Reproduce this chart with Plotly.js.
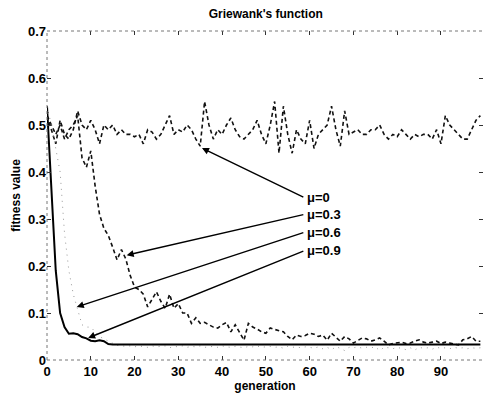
<!DOCTYPE html>
<html>
<head>
<meta charset="utf-8">
<script src="https://cdn.plot.ly/plotly-3.0.1.min.js"></script>
<style>html,body{margin:0;padding:0;background:#fff;}#chart{width:485px;height:393px;}</style>
</head>
<body>
<div id="chart"></div>
<script>
const generations = Array.from({length: 100}, (_, i) => i);

const mu0 = [0.52,0.49,0.46,0.51,0.48,0.47,0.49,0.53,0.50,0.49,
  0.51,0.49,0.46,0.50,0.49,0.50,0.48,0.49,0.48,0.48,
  0.475,0.48,0.46,0.49,0.485,0.47,0.48,0.50,0.52,0.48,
  0.49,0.485,0.50,0.49,0.47,0.455,0.55,0.50,0.47,0.49,
  0.48,0.50,0.515,0.49,0.475,0.47,0.48,0.49,0.51,0.48,
  0.46,0.50,0.55,0.44,0.54,0.48,0.44,0.49,0.47,0.46,
  0.51,0.45,0.48,0.49,0.50,0.54,0.49,0.455,0.53,0.48,
  0.485,0.49,0.48,0.48,0.49,0.49,0.50,0.48,0.47,0.48,
  0.475,0.49,0.48,0.47,0.48,0.475,0.48,0.48,0.47,0.49,
  0.46,0.52,0.50,0.49,0.48,0.47,0.47,0.49,0.51,0.52];

const mu03 = [0.52,0.50,0.48,0.50,0.47,0.49,0.50,0.52,0.43,0.41,
  0.445,0.37,0.31,0.28,0.265,0.24,0.213,0.235,0.215,0.18,
  0.155,0.15,0.14,0.113,0.13,0.145,0.125,0.11,0.14,0.11,
  0.12,0.10,0.10,0.078,0.09,0.078,0.08,0.075,0.07,0.068,
  0.075,0.08,0.06,0.075,0.06,0.042,0.078,0.07,0.066,0.06,
  0.057,0.068,0.065,0.062,0.06,0.05,0.043,0.053,0.05,0.052,
  0.057,0.055,0.05,0.053,0.042,0.057,0.048,0.04,0.05,0.045,
  0.036,0.042,0.047,0.045,0.04,0.043,0.047,0.04,0.032,0.035,
  0.036,0.038,0.035,0.036,0.04,0.043,0.038,0.036,0.038,0.04,
  0.035,0.038,0.036,0.034,0.032,0.043,0.045,0.05,0.04,0.04];

const mu06 = [0.54,0.50,0.45,0.40,0.27,0.19,0.14,0.11,0.075,0.07,
  0.07,0.06,0.05,0.045,0.04,0.035,0.031,0.03,0.029,0.03,
  0.028,0.03,0.029,0.027,0.03,0.028,0.029,0.03,0.026,0.029,
  0.028,0.03,0.027,0.029,0.028,0.03,0.027,0.028,0.029,0.027,
  0.03,0.028,0.027,0.029,0.028,0.026,0.029,0.028,0.03,0.027,
  0.028,0.029,0.027,0.028,0.025,0.029,0.027,0.028,0.026,0.028,
  0.027,0.025,0.028,0.024,0.027,0.022,0.028,0.025,0.02,0.027,
  0.026,0.028,0.025,0.027,0.026,0.028,0.02,0.027,0.026,0.024,
  0.027,0.025,0.022,0.026,0.021,0.027,0.025,0.026,0.023,0.027,
  0.025,0.026,0.024,0.027,0.025,0.026,0.024,0.026,0.025,0.026];

const mu09 = [0.54,0.37,0.19,0.10,0.07,0.056,0.057,0.055,0.049,0.046,
  0.041,0.04,0.042,0.04,0.034,0.033,0.033,0.033,0.033,0.033,
  0.033,0.033,0.033,0.033,0.033,0.033,0.033,0.033,0.033,0.033,
  0.033,0.033,0.033,0.033,0.033,0.033,0.033,0.033,0.033,0.033,
  0.033,0.033,0.033,0.033,0.033,0.033,0.033,0.033,0.033,0.033,
  0.033,0.033,0.033,0.033,0.033,0.033,0.033,0.033,0.033,0.033,
  0.033,0.033,0.033,0.033,0.033,0.033,0.033,0.033,0.033,0.033,
  0.033,0.033,0.033,0.033,0.033,0.033,0.033,0.033,0.033,0.033,
  0.033,0.033,0.033,0.033,0.033,0.033,0.033,0.033,0.033,0.033,
  0.033,0.033,0.033,0.033,0.033,0.033,0.033,0.033,0.033,0.033];

const seriesLabels = ['μ=0', 'μ=0.3', 'μ=0.6', 'μ=0.9'];
// arrow targets [generation, value] and label anchors [generation, value]
const arrowTips = [[35.4, 0.451], [18.2, 0.223], [6.8, 0.113], [9.4, 0.047]];
const labelPos = [[58.9, 0.345], [58.9, 0.31], [58.9, 0.272], [58.9, 0.233]];

const xTicks = [0,10,20,30,40,50,60,70,80,90];
const yTicks = [0,0.1,0.2,0.3,0.4,0.5,0.6,0.7];
const yTickText = ['0','0.1','0.2','0.3','0.4','0.5','0.6','0.7'];

const FONT = 'Liberation Sans, Arial, sans-serif';

const traces = [
  {x: generations, y: mu0, mode: 'lines', line: {color: '#111', width: 1.6, dash: '4px,3px'}, name: seriesLabels[0]},
  {x: generations, y: mu03, mode: 'lines', line: {color: '#111', width: 1.6, dash: '4px,3px'}, name: seriesLabels[1]},
  {x: generations, y: mu06, mode: 'lines', line: {color: '#999', width: 1, dash: '1px,5px'}, name: seriesLabels[2]},
  {x: generations, y: mu09, mode: 'lines', line: {color: '#000', width: 2}, name: seriesLabels[3]}
];

const annotations = [];
for (let i = 0; i < seriesLabels.length; i++) {
  annotations.push({
    x: arrowTips[i][0], y: arrowTips[i][1], xref: 'x', yref: 'y',
    ax: labelPos[i][0], ay: labelPos[i][1], axref: 'x', ayref: 'y',
    text: '', showarrow: true, arrowhead: 2, arrowsize: 1, arrowwidth: 1.4, arrowcolor: '#000'
  });
  annotations.push({
    x: labelPos[i][0], y: labelPos[i][1], xref: 'x', yref: 'y',
    text: '<b>' + seriesLabels[i] + '</b>', showarrow: false, xanchor: 'left', yanchor: 'middle',
    font: {family: FONT, size: 13, color: '#000'}
  });
}

const boxLine = {color: '#777', width: 1, dash: 'dot'};
const shapes = [
  {type: 'line', xref: 'paper', yref: 'paper', x0: 0, x1: 0, y0: 0, y1: 1, line: boxLine},
  {type: 'line', xref: 'paper', yref: 'paper', x0: 0, x1: 1, y0: 0, y1: 0, line: boxLine},
  {type: 'line', xref: 'paper', yref: 'paper', x0: 0, x1: 1, y0: 1, y1: 1, line: boxLine}
];

const layout = {
  width: 485, height: 393,
  margin: {l: 47, r: 2, t: 31, b: 33},
  paper_bgcolor: '#fff', plot_bgcolor: '#fff',
  showlegend: false,
  title: {text: "<b>Griewank's function</b>", font: {family: FONT, size: 12, color: '#000'}, x: 0.548, xanchor: 'center', y: 0.965, yanchor: 'middle'},
  xaxis: {
    range: [0, 99.6], tickvals: xTicks, ticktext: xTicks.map(v => '<b>' + v + '</b>'),
    ticks: 'inside', ticklen: 4, tickcolor: '#333', mirror: 'ticks', showline: false,
    showgrid: false, zeroline: false, ticklabelstandoff: 2,
    tickfont: {family: FONT, size: 13, color: '#000'},
    title: {text: '<b>generation</b>', font: {family: FONT, size: 12, color: '#000'}, standoff: 0}
  },
  yaxis: {
    range: [0, 0.7], tickvals: yTicks, ticktext: yTickText.map(v => '<b>' + v + '</b>'),
    ticks: 'inside', ticklen: 4, tickcolor: '#333', mirror: 'ticks', showline: false,
    showgrid: false, zeroline: false,
    tickfont: {family: FONT, size: 13, color: '#000'},
    title: {text: '<b>fitness value</b>', font: {family: FONT, size: 12, color: '#000'}, standoff: 4}
  },
  annotations: annotations,
  shapes: shapes
};

Plotly.newPlot('chart', traces, layout, {displayModeBar: false, staticPlot: true});
</script>
</body>
</html>
